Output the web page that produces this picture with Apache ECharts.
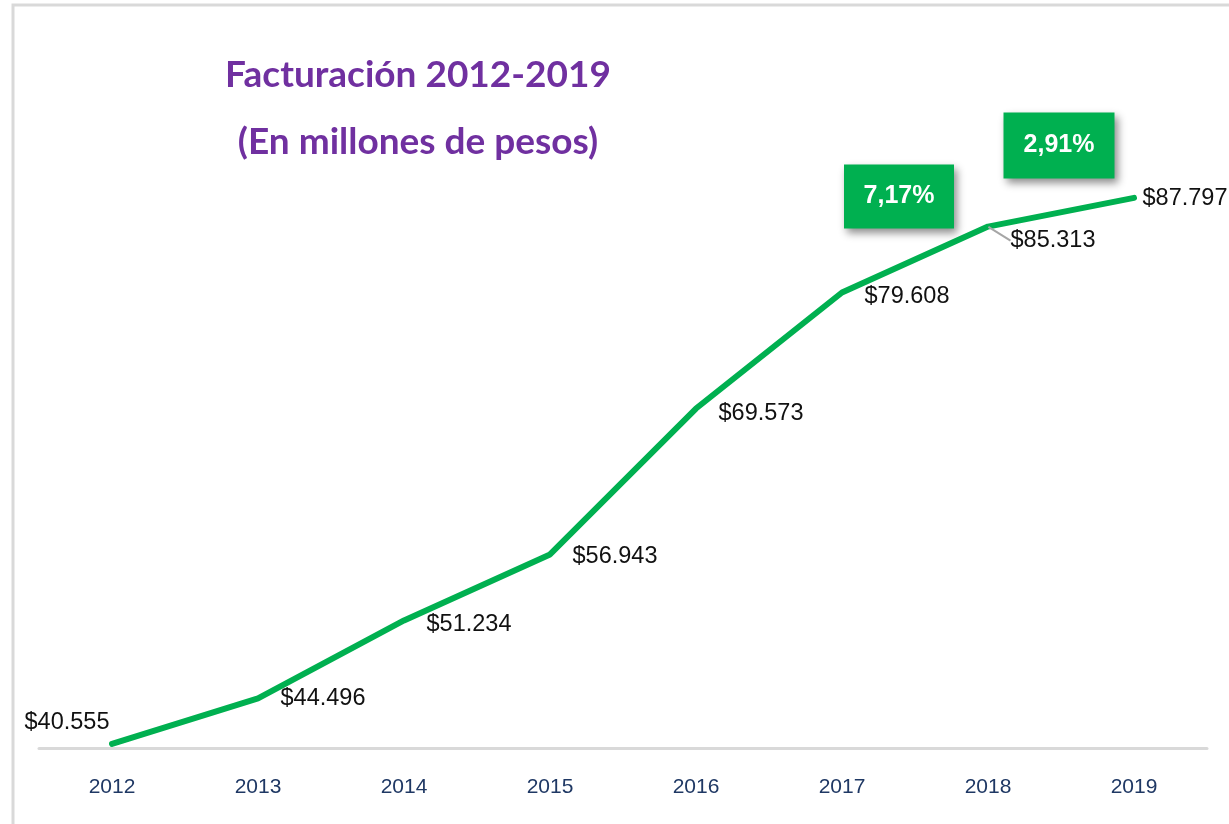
<!DOCTYPE html>
<html>
<head>
<meta charset="utf-8">
<script src="https://cdn.jsdelivr.net/npm/echarts@6/dist/echarts.min.js"></script>
<style>
html,body{margin:0;padding:0;background:#fff;}
#c{width:1229px;height:824px;}
</style>
</head>
<body>
<div id="c"></div>
<script>
const years = ['2012','2013','2014','2015','2016','2017','2018','2019'];
const facturacion = [40555, 44496, 51234, 56943, 69573, 79608, 85313, 87797];
const valueLabels = ['$40.555','$44.496','$51.234','$56.943','$69.573','$79.608','$85.313','$87.797'];
const growthLabels = ['7,17%', '2,91%'];
const growthYears = ['2017', '2018'];

const labelOffsets = [[0,-21],[0,0],[0,4],[0,2],[0,5],[0,4],[0,14],[-14,1]];

const chart = echarts.init(document.getElementById('c'), null, {renderer:'canvas'});

const seriesData = facturacion.map((v, i) => {
  const item = { value: v };
  if (i === 0) {
    item.label = { position: 'left', distance: 2 };
  }
  if (i === 6) {
    item.labelLine = { show: true };
  }
  return item;
});

const growthPoints = growthYears.map((y, k) => {
  const idx = years.indexOf(y);
  return {
    coord: [y, facturacion[idx]],
    value: growthLabels[k],
    symbolOffset: k === 0 ? [57, -96] : [71, -81],
    symbolSize: k === 0 ? [110, 64] : [111, 66]
  };
});

chart.setOption({
  animation: false,
  backgroundColor: '#ffffff',
  title: {
    text: 'Facturación 2012-2019\n(En millones de pesos)',
    left: 413,
    top: 37,
    textAlign: 'center',
    textStyle: {
      fontFamily: 'Lato',
      fontWeight: 'bold',
      fontSize: 37,
      lineHeight: 67,
      color: '#7030A0'
    }
  },
  graphic: [{
    type: 'rect',
    shape: { x: 13, y: 5, width: 1300, height: 900 },
    style: { fill: 'none', stroke: '#d9d9d9', lineWidth: 3 },
    silent: true,
    z: -1
  }],
  grid: { left: 39, right: 22, top: 160, bottom: 76 },
  xAxis: {
    type: 'category',
    data: years,
    boundaryGap: true,
    axisLine: { show: true, lineStyle: { color: '#d9d9d9', width: 3 } },
    axisTick: { show: false },
    axisLabel: {
      margin: 29,
      fontFamily: 'Liberation Sans',
      fontSize: 21,
      color: '#1F3864'
    },
    splitLine: { show: false }
  },
  yAxis: {
    type: 'value',
    min: 40200,
    max: 91074,
    show: false,
    splitLine: { show: false }
  },
  series: [{
    type: 'line',
    data: seriesData,
    symbol: 'circle',
    symbolSize: 1,
    showSymbol: true,
    itemStyle: { color: 'rgba(0,0,0,0)' },
    lineStyle: { color: '#00B050', width: 6, cap: 'round', join: 'round' },
    label: {
      show: true,
      position: 'right',
      distance: 22,
      fontFamily: 'Liberation Sans',
      fontSize: 23.5,
      color: '#111111',
      formatter: p => valueLabels[p.dataIndex]
    },
    labelLine: { show: false, lineStyle: { color: '#a6a6a6', width: 2 } },
    labelLayout: function (params) {
      const o = labelOffsets[params.dataIndex];
      return { dx: o[0], dy: o[1] };
    },
    markPoint: {
      symbol: 'rect',
      itemStyle: {
        color: '#00B050',
        shadowBlur: 8,
        shadowColor: 'rgba(0,0,0,0.45)',
        shadowOffsetX: 3,
        shadowOffsetY: 4
      },
      label: {
        show: true,
        position: 'inside',
        color: '#ffffff',
        fontFamily: 'Liberation Sans',
        fontWeight: 'bold',
        fontSize: 25,
        formatter: p => p.value
      },
      data: growthPoints
    }
  }]
});
</script>
</body>
</html>
